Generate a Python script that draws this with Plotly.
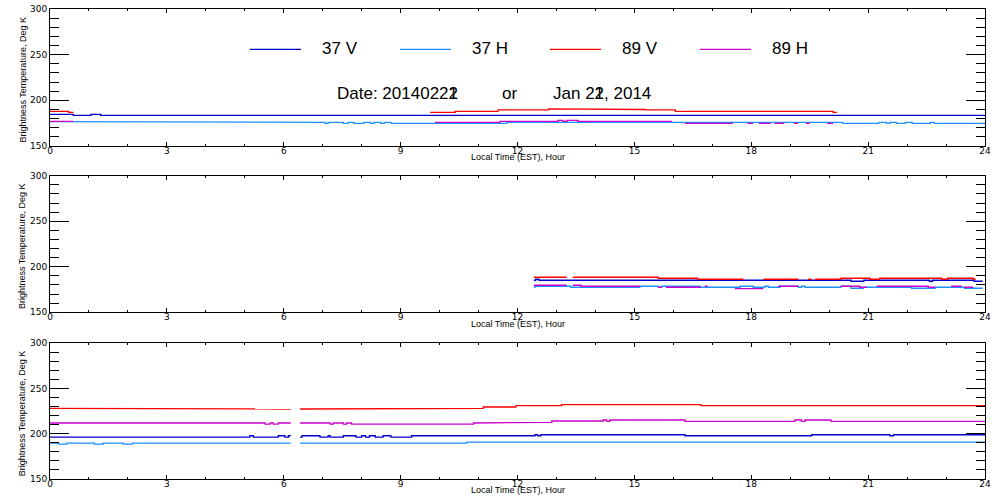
import plotly.graph_objects as go

# ---- data: step series, value v[i] holds from t[i] to t[i+1], None = no data ----
# panel 1 (top)
p1_37v_t = [0, 0.6, 1.05, 1.3, 24]
p1_37v_v = [184.5, 183.4, 184.5, 183.4]
p1_37h_t = [0, 0.6, 7.06, 7.14, 7.53, 7.66, 7.8, 8.06, 8.23, 8.32, 8.49, 8.58, 8.75,
            11.72, 20.35, 21.27, 21.47, 21.56, 21.73, 21.96, 22.13, 22.6, 22.7, 24]
p1_37h_v = [176.4, 175.7, 174.6, 175.7, 174.6, 175.7, 174.6, 175.7, 174.6, 175.7, 174.6, 175.7,
            174.6, 175.7, 174.6, 175.7, 174.6, 175.7, 174.6, 175.7, 174.6, 175.7, 174.6]
p1_89v_t = [0, 0.48, 0.6, 9.76, 10.4, 11.5, 12.8, 15.1, 15.27, 16.05, 20.1, 20.2]
p1_89v_v = [187.8, 186.7, None, 186.7, 187.8, 189.3, 190.4, 189.8, 189.3, 187.8, 186.7]
p1_89h_t = [0, 0.6, 9.88, 11.55, 13.04, 13.17, 13.27, 13.55, 15.97, 16.3, 17.53, 17.9,
            18.05, 18.2, 18.5, 18.6, 18.85, 19.1, 19.2, 19.4, 19.5, 19.95, 20.1]
p1_89h_v = [176.8, None, 175.7, 176.8, 177.9, 176.8, 177.9, 176.8, None, 174.6, None, 174.6,
            None, 174.6, None, 174.6, None, 174.6, None, 174.6, None, 174.6]

# panel 2 (middle)
p2_37v_t = [12.42, 12.47, 12.55, 20.56, 20.89, 22.57, 22.65, 23.72, 23.94]
p2_37v_v = [185.2, 186.3, 185.2, 184.1, 185.2, 184.1, 185.2, 184.1]
p2_37h_t = [12.42, 12.45, 13.37, 15.14, 15.61, 15.7, 16.68, 17.71, 18.05, 18.35, 18.44, 18.74,
            19.21, 19.29, 19.38, 20.3, 20.56, 20.88, 22.12, 22.72, 23.47, 23.94]
p2_37h_v = [177.5, 178.6, 177.5, 178.6, 177.5, 178.6, 177.5, 178.6, 177.5, 178.6, 177.5,
            178.6, 177.5, 178.6, 177.5, 178.6, 176.4, 177.5, 176.4, 177.5, 176.4]
p2_89v_t = [12.42, 13.26, 13.42, 15.61, 16.62, 17.8, 18.31, 19.21, 19.46, 19.55, 19.64, 20.3,
            21.05, 21.3, 22.89, 23.04, 23.7, 23.76]
p2_89v_v = [188.5, None, 188.5, 187.4, 186.3, None, 186.3, None, 186.3, None, 186.3, 187.4,
            186.3, 187.4, 186.3, 187.4, 186.3]
p2_89h_t = [12.42, 13.26, 13.42, 13.63, 15.14, 15.61, 15.7, 15.81, 16.71, 16.81, 16.88, 17.58,
            18.31, 18.69, 19.21, 20.3, 20.79, 20.96, 21.22, 22.54, 22.72, 23.13, 23.4, 23.47, 23.7]
p2_89h_v = [179.7, None, 179.7, 178.6, None, 177.5, None, 177.5, None, 178.6, None, 176.0,
            None, 178.6, None, 178.6, 177.5, None, 178.6, 177.5, None, 178.6, None, 177.5]

# panel 3 (bottom)
p3_37v_t = [0, 5.13, 5.22, 5.86, 6.03, 6.12, 6.18, 6.42, 6.47, 6.93, 7.14, 7.19, 7.53, 7.85,
            8.0, 8.1, 8.2, 8.35, 8.55, 8.75, 9.28, 12.45, 12.52, 12.6, 16.3, 19.55, 21.56, 21.65, 24]
p3_37v_v = [196.3, 197.8, 196.3, 197.8, 196.3, 197.8, None, 196.3, 197.8, 196.3, 197.8, 196.3,
            197.8, 196.3, 197.8, 196.3, 197.8, 196.3, 197.8, 196.3, 197.8, 198.9, 197.8, 198.9,
            197.8, 198.9, 197.8, 198.9]
p3_37h_t = [0, 0.22, 0.43, 1.14, 1.37, 1.88, 2.12, 6.18, 6.42, 10.7, 24]
p3_37h_v = [189.6, 188.5, 189.6, 188.5, 189.6, 188.5, 189.6, None, 189.6, 190.7]
p3_89v_t = [0, 1.88, 6.18, 6.42, 10.52, 11.12, 11.96, 13.13, 14.55, 15.96, 16.71, 24]
p3_89v_v = [228.1, 227.4, None, 227.4, 228.1, 229.6, 231.1, 232.2, 233.0, 232.2, 231.1]
p3_89h_t = [0, 5.52, 5.65, 5.73, 5.86, 6.18, 6.42, 7.19, 7.27, 7.53, 7.61, 7.74, 10.87, 11.64,
            12.88, 14.2, 14.29, 14.37, 16.3, 19.12, 19.29, 19.38, 20.05, 24]
p3_89h_v = [211.9, 210.7, 211.9, 210.7, 211.9, None, 211.9, 210.7, 211.9, 210.7, 211.9, 210.7,
            211.9, 212.6, 214.1, 215.2, 213.7, 215.2, 213.7, 215.2, 213.7, 215.2, 213.7]

channels = ['37 V', '37 H', '89 V', '89 H']
colors = ['#0000CC', '#1E90FF', '#FF0000', '#CC00CC']
panels = [
    [(p1_37v_t, p1_37v_v), (p1_37h_t, p1_37h_v), (p1_89v_t, p1_89v_v), (p1_89h_t, p1_89h_v)],
    [(p2_37v_t, p2_37v_v), (p2_37h_t, p2_37h_v), (p2_89v_t, p2_89v_v), (p2_89h_t, p2_89h_v)],
    [(p3_37v_t, p3_37v_v), (p3_37h_t, p3_37h_v), (p3_89v_t, p3_89v_v), (p3_89h_t, p3_89h_v)],
]
# the two dates are printed over each other in the original
date_num = ['Date: 2014022', '1', '2']
date_txt = ['Jan 2', '1', '2', ', 2014']


def steps(t, v):
    xs, ys = [], []
    for i in range(len(v)):
        if v[i] is None:
            xs.append(t[i])
            ys.append(None)
        else:
            xs += [t[i], t[i + 1]]
            ys += [v[i], v[i]]
    return xs, ys


def ghost(s):
    return f'<span style="color:rgba(0,0,0,0)">{s}</span>'


W, H = 1000, 500
# panel pixel boxes (top, bottom)
boxes = [(9.3, 145.7), (175.7, 312.3), (343.3, 479.0)]
x0px, x1px = 50, 985

fig = go.Figure()
for p, series in enumerate(panels):
    for c, (t, v) in enumerate(series):
        xs, ys = steps(t, v)
        fig.add_trace(go.Scatter(
            x=xs, y=ys, mode='lines', name=channels[c],
            line=dict(color=colors[c], width=1.3),
            xaxis='x' if p == 0 else f'x{p + 1}',
            yaxis='y' if p == 0 else f'y{p + 1}',
            showlegend=False, connectgaps=False,
        ))

tick_font = dict(family='DejaVu Sans', size=9, color='black')
layout = dict(width=W, height=H, margin=dict(l=0, r=0, t=0, b=0, autoexpand=False),
              paper_bgcolor='white', plot_bgcolor='white', showlegend=False)
annotations = []
for p, (top, bot) in enumerate(boxes):
    sfx = '' if p == 0 else str(p + 1)
    layout['xaxis' + sfx] = dict(
        domain=[x0px / W, x1px / W], anchor='y' + sfx, range=[0, 24], dtick=3, tick0=0,
        ticks='inside', ticklen=4, tickwidth=1, tickcolor='black', mirror='ticks',
        showline=True, linecolor='black', linewidth=1, showgrid=False, zeroline=False,
        minor=dict(dtick=1, ticks='inside', ticklen=2, tickcolor='black'),
        tickfont=tick_font, ticklabelstandoff=-4, automargin=False,
    )
    layout['yaxis' + sfx] = dict(
        domain=[1 - bot / H, 1 - top / H], anchor='x' + sfx, range=[150, 300], dtick=50,
        tick0=150, ticks='inside', ticklen=19, tickwidth=1, tickcolor='black', mirror='ticks',
        showline=True, linecolor='black', linewidth=1, showgrid=False, zeroline=False,
        minor=dict(dtick=10, ticks='inside', ticklen=9, tickcolor='black'),
        tickfont=tick_font, automargin=False,
    )
    annotations.append(dict(
        text='Local Time (EST), Hour', x=(x0px + x1px) / 2 / W, y=1 - (bot + 11.3) / H,
        xref='paper', yref='paper', showarrow=False, xanchor='center', yanchor='middle',
        font=dict(family='Liberation Sans', size=9, color='black')))
    annotations.append(dict(
        text='Brightness Temperature, Deg K', x=22 / W, y=1 - ((top + bot) / 2 + 3) / H,
        xref='paper', yref='paper', showarrow=False, xanchor='center', yanchor='middle',
        textangle=-90, font=dict(family='Liberation Sans', size=9, color='black')))

# legend in the top panel
big_font = dict(family='Liberation Sans', size=17, color='black')
shapes = []
for c, name in enumerate(channels):
    lx = 250 + 150 * c
    shapes.append(dict(type='line', xref='paper', yref='paper',
                       x0=lx / W, x1=(lx + 51) / W, y0=1 - 49.3 / H, y1=1 - 49.3 / H,
                       line=dict(color=colors[c], width=1.3)))
    annotations.append(dict(text=name, x=(lx + 70) / W, y=1 - 48.8 / H, xref='paper',
                            yref='paper', showarrow=False, xanchor='left', yanchor='middle',
                            font=big_font))

# date line: shared text once, differing digits overprinted
date_lines = [
    (335, date_num[0] + date_num[1]),
    (335, ghost(date_num[0]) + date_num[2]),
    (551, date_txt[0] + date_txt[1] + date_txt[3]),
    (551, ghost(date_txt[0]) + date_txt[2] + ghost(date_txt[3])),
    (500, 'or'),
]
for px, txt in date_lines:
    annotations.append(dict(text=txt, x=px / W, y=1 - 94 / H, xref='paper', yref='paper',
                            showarrow=False, xanchor='left', yanchor='middle', font=big_font))

layout['annotations'] = annotations
layout['shapes'] = shapes
fig.update_layout(**layout)

fig.write_html("out.html", config={'displayModeBar': False},
               post_script="document.body.style.margin='0';")
